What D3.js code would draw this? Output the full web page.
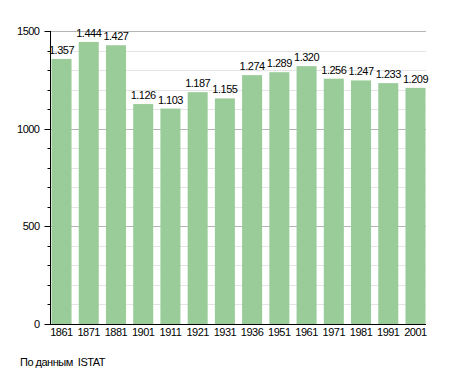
<!DOCTYPE html>
<html><head><meta charset="utf-8">
<script src="https://cdn.jsdelivr.net/npm/d3@7"></script>
<style>body{margin:0;background:#fff}svg{display:block;font-family:"Liberation Sans",Arial,sans-serif}svg text{letter-spacing:-0.5px}</style>
</head><body>
<script>
const years = ["1861","1871","1881","1901","1911","1921","1931","1936","1951","1961","1971","1981","1991","2001"];
const population = [1357,1444,1427,1126,1103,1187,1155,1274,1289,1320,1256,1247,1233,1209];
const yMajorTicks = [0,500,1000,1500];
const sourceText = "По данным  ISTAT";

const W=455,H=373,FS=11;
const svg=d3.select("body").append("svg").attr("width",W).attr("height",H);
const x=d3.scaleBand().domain(years).range([51.5,425.5]).paddingInner(0.265).paddingOuter(0);
const y=d3.scaleLinear().domain([0,1500]).range([324,31]);
const minor=d3.range(0,1501,100);
const fmt=d3.formatLocale({decimal:",",thousands:".",grouping:[3]}).format(",d");

// gridlines
svg.append("g").selectAll("line").data(minor.filter(v=>v%500!==0)).join("line")
 .attr("x1",50).attr("x2",426).attr("y1",d=>Math.round(y(d))+0.5).attr("y2",d=>Math.round(y(d))+0.5)
 .attr("stroke","#e4e4e4");
svg.append("g").selectAll("line").data(yMajorTicks.filter(v=>v>0)).join("line")
 .attr("x1",50).attr("x2",426).attr("y1",d=>Math.round(y(d))+0.5).attr("y2",d=>Math.round(y(d))+0.5)
 .attr("stroke","#b4b4b4");

// bars
svg.append("g").selectAll("rect").data(population).join("rect")
 .attr("x",(d,i)=>x(years[i])).attr("width",x.bandwidth())
 .attr("y",d=>y(d)).attr("height",d=>y(0)-y(d)).attr("fill","#99cc99");

// value labels
svg.append("g").selectAll("text").data(population).join("text")
 .attr("x",(d,i)=>x(years[i])+x.bandwidth()/2).attr("y",d=>y(d)-5)
 .attr("text-anchor","middle").attr("font-size",FS).attr("fill","#000").text(d=>fmt(d));

// y axis
const ya=svg.append("g").attr("transform","translate(50.5,0)");
ya.append("line").attr("y1",31).attr("y2",324.5).attr("stroke","#000");
ya.selectAll(".mt").data(minor).join("line").attr("x1",d=>d%500===0?-6:-3).attr("x2",0)
 .attr("y1",d=>Math.round(y(d))+0.5).attr("y2",d=>Math.round(y(d))+0.5).attr("stroke","#000");
ya.selectAll("text").data(yMajorTicks).join("text").attr("x",-11).attr("y",d=>y(d)+4)
 .attr("text-anchor","end").attr("font-size",FS).text(d=>d);

// x axis
svg.append("line").attr("x1",50).attr("x2",426).attr("y1",324.5).attr("y2",324.5).attr("stroke","#000");
svg.append("g").selectAll("text").data(years).join("text")
 .attr("x",d=>x(d)+x.bandwidth()/2).attr("y",336).attr("text-anchor","middle").attr("font-size",FS).text(d=>d);

svg.append("text").attr("x",20).attr("y",366).attr("font-size",FS).attr("xml:space","preserve").style("white-space","pre").text(sourceText);
</script>
</body></html>
